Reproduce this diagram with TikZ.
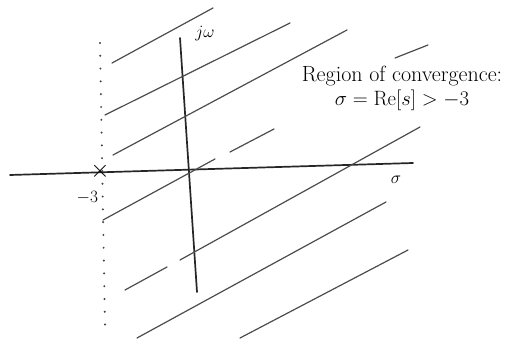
\documentclass[tikz,border=0pt]{standalone}
\usepackage{amsmath,amssymb}
\usepackage{tikz}
\usetikzlibrary{positioning}

\begin{document}
\begin{tikzpicture}[
  x=1pt, y=-1pt, line cap=round,
  axis/.style={draw, line width=1.7pt, black!85},
  hatch/.style={draw, line width=1.2pt, black!70},
  bound/.style={draw, line width=2.2pt, black!75, dash pattern=on 0pt off 12.8pt},
  lbl/.style={inner sep=1pt, font=\fontsize{19}{22}\selectfont},
  big/.style={inner sep=1pt, font=\fontsize{22}{24}\selectfont}]
\useasboundingbox (0,0) rectangle (522,339);
% axes
\coordinate (sl) at (10,175);
\coordinate (sr) at (413,163);
\coordinate (wt) at (180,38);
\coordinate (wb) at (197,292);
\draw[axis] (sl) -- (sr);
\draw[axis] (wt) -- (wb);
% boundary of the region at sigma = -3
\coordinate (bt) at (100,43);
\coordinate (bb) at (105,326);
\draw[bound] (bt) -- (bb);
\node[font=\fontsize{24}{24}\selectfont, inner sep=0pt] (pole) at (100,171) {$\times$};
\node[lbl, below left=11pt and -9pt of pole] (m3) {$-3$};
% hatching
\draw[hatch] (112,63) -- (213,8);
\draw[hatch] (105,115) -- (290,23);
\draw[hatch] (113,155) -- (347,30);
\draw[hatch] (103,220) -- (215,159);
\draw[hatch] (230,152) -- (274,129);
\draw[hatch] (395,58) -- (428,45);
\draw[hatch] (125,290) -- (167,267);
\draw[hatch] (180,260) -- (420,127);
\draw[hatch] (137,338) -- (386,202);
\draw[hatch] (240,338) -- (408,250);
% labels
\node[lbl] (jw)  at (205,34) {$j\omega$};
\node[lbl] (sig) at (396,180) {$\sigma$};
\node[big] (roc) at (402,76) {Region of convergence:};
\node[big, below=2pt of roc] (cond) {$\sigma = \mathrm{Re}[s] > -3$};
\end{tikzpicture}
\end{document}
